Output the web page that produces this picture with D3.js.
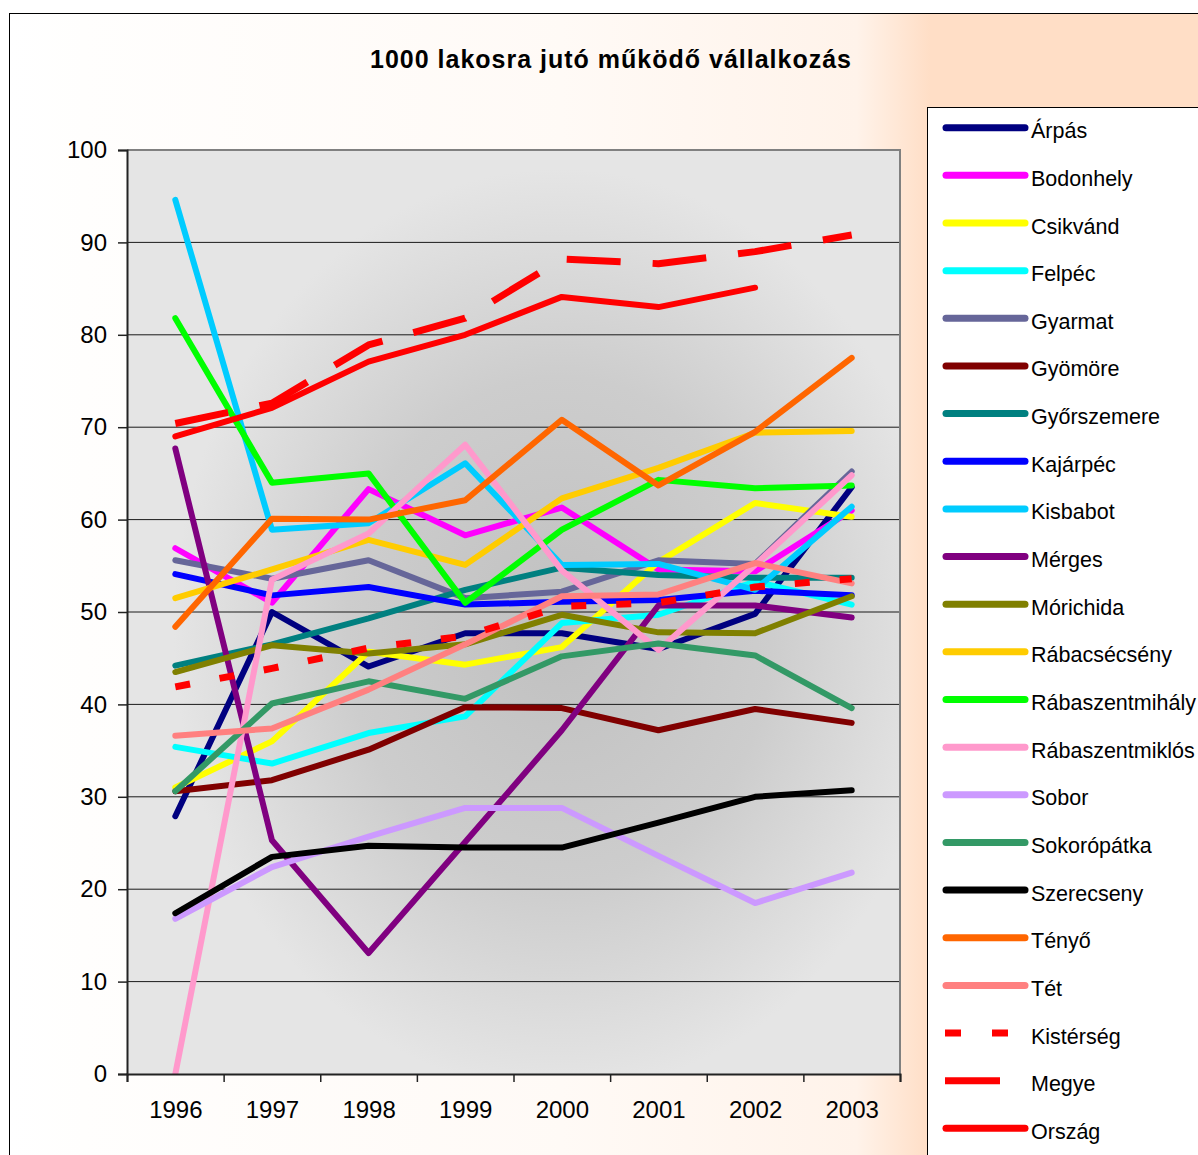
<!DOCTYPE html>
<html>
<head>
<meta charset="utf-8">
<script src="https://cdn.jsdelivr.net/npm/d3@7"></script>
<style>
  html, body { margin: 0; padding: 0; background: #ffffff; }
  svg { display: block; font-family: "Liberation Sans", Arial, sans-serif; }
</style>
</head>
<body>
<svg id="chart" width="1198" height="1155"></svg>
<script>
// ---------- DATA ----------
const years = ["1996", "1997", "1998", "1999", "2000", "2001", "2002", "2003"];
const yTicks = [0, 10, 20, 30, 40, 50, 60, 70, 80, 90, 100];
const title = "1000 lakosra jutó működő vállalkozás";

const seriesNames = ["Árpás", "Bodonhely", "Csikvánd", "Felpéc", "Gyarmat", "Gyömöre", "Győrszemere",
  "Kajárpéc", "Kisbabot", "Mérges", "Mórichida", "Rábacsécsény", "Rábaszentmihály", "Rábaszentmiklós",
  "Sobor", "Sokorópátka", "Szerecseny", "Tényő", "Tét", "Kistérség", "Megye", "Ország"];

const arpas           = [27.9, 50.0, 44.1, 47.7, 47.7, 46.0, 49.8, 63.5];
const bodonhely       = [56.9, 51.0, 63.3, 58.3, 61.3, 54.6, 54.4, 61.0];
const csikvand        = [31.0, 36.0, 45.7, 44.3, 46.2, 55.4, 61.8, 60.3];
const felpec          = [35.4, 33.6, 36.9, 38.7, 48.8, 49.7, 53.3, 50.8];
const gyarmat         = [55.6, 53.6, 55.6, 51.5, 52.2, 55.6, 55.2, 65.2];
const gyomore         = [30.6, 31.8, 35.1, 39.7, 39.6, 37.2, 39.5, 38.0];
const gyorszemere     = [44.2, 46.5, 49.3, 52.4, 54.8, 54.0, 53.7, 53.7];
const kajarpec        = [54.1, 51.8, 52.7, 50.8, 51.1, 51.3, 52.3, 51.8];
const kisbabot        = [94.6, 58.9, 59.6, 66.1, 55.1, 55.2, 52.4, 61.4];
const merges          = [67.7, 25.3, 13.1, 25.1, 37.2, 50.7, 50.7, 49.4];
const morichida       = [43.5, 46.4, 45.5, 46.5, 49.7, 47.8, 47.7, 51.7];
const rabacsecseny    = [51.5, 54.6, 57.8, 55.1, 62.3, 65.6, 69.4, 69.6];
const rabaszentmihaly = [81.8, 64.0, 65.0, 51.0, 58.9, 64.3, 63.4, 63.7];
const rabaszentmiklos = [0.0, 53.5, 58.5, 68.1, 54.5, 45.9, 55.1, 64.8];
const sobor           = [16.8, 22.4, 25.7, 28.8, 28.8, 23.6, 18.5, 21.8];
const sokoropatka     = [30.6, 40.1, 42.5, 40.6, 45.2, 46.6, 45.3, 39.6];
const szerecseny      = [17.4, 23.5, 24.7, 24.5, 24.5, 27.2, 30.0, 30.7];
const tenyo           = [48.4, 60.1, 60.0, 62.1, 70.8, 63.7, 69.5, 77.5];
const tet             = [36.6, 37.4, 41.6, 46.5, 51.7, 51.9, 55.3, 53.1];
const kisterseg       = [41.9, 43.9, 46.1, 47.4, 50.6, 51.0, 52.7, 53.6];
const megye           = [70.4, 72.6, 78.9, 81.8, 88.2, 87.7, 89.0, 90.8];
const orszag          = [69.0, 72.1, 77.1, 80.0, 84.1, 83.0, 85.1, null];

const seriesValues = [arpas, bodonhely, csikvand, felpec, gyarmat, gyomore, gyorszemere, kajarpec,
  kisbabot, merges, morichida, rabacsecseny, rabaszentmihaly, rabaszentmiklos, sobor, sokoropatka,
  szerecseny, tenyo, tet, kisterseg, megye, orszag];

const seriesColors = ["#000080", "#FF00FF", "#FFFF00", "#00FFFF", "#666699", "#800000", "#008080",
  "#0000FF", "#00CCFF", "#800080", "#808000", "#FFCC00", "#00FF00", "#FF99CC", "#CC99FF", "#339966",
  "#000000", "#FF6600", "#FF8080", "#FF0000", "#FF0000", "#FF0000"];

// ---------- STYLE ----------
const FONT = "'Liberation Sans', Arial, sans-serif";
const dashChart = { "Kistérség": "15,30", "Megye": "54,32" };
const dashLegend = { "Kistérség": "16,31", "Megye": "55,40" };

const series = seriesNames.map((n, i) => ({ name: n, values: seriesValues[i], color: seriesColors[i] }));

const svg = d3.select("#chart");
const W = 1198, H = 1155;
const plot = { left: 127, right: 900, top: 150, bottom: 1074 };

const defs = svg.append("defs");
const bg = defs.append("linearGradient").attr("id", "bgGrad")
  .attr("gradientUnits", "userSpaceOnUse").attr("x1", 10).attr("y1", 0).attr("x2", 930).attr("y2", 0);
bg.append("stop").attr("offset", "0").attr("stop-color", "#ffffff");
bg.append("stop").attr("offset", "0.08").attr("stop-color", "#fffefd");
bg.append("stop").attr("offset", "0.6").attr("stop-color", "#fffaf6");
bg.append("stop").attr("offset", "0.92").attr("stop-color", "#fff3ea");
bg.append("stop").attr("offset", "1").attr("stop-color", "#ffdec6");

const pg = defs.append("radialGradient").attr("id", "plotGrad")
  .attr("cx", "0.56").attr("cy", "0.52").attr("r", "0.5");
pg.append("stop").attr("offset", "0").attr("stop-color", "#c0c0c0");
pg.append("stop").attr("offset", "0.55").attr("stop-color", "#cdcdcd");
pg.append("stop").attr("offset", "1").attr("stop-color", "#e5e5e5");

svg.append("rect").attr("x", 0).attr("y", 0).attr("width", W).attr("height", H).attr("fill", "#ffffff");
svg.append("rect").attr("x", 9.5).attr("y", 13.5).attr("width", W + 20).attr("height", H + 20)
  .attr("fill", "url(#bgGrad)").attr("stroke", "#000").attr("stroke-width", 1);

// title
svg.append("text").attr("x", 611).attr("y", 68).attr("text-anchor", "middle")
  .attr("font-family", FONT).attr("letter-spacing", 1)
  .attr("font-size", 25).attr("font-weight", "bold").attr("fill", "#000").text(title);

// scales
const x = d3.scalePoint().domain(years).range([plot.left, plot.right]).padding(0.5);
const xEdge = d3.scaleLinear().domain([0, years.length]).range([plot.left, plot.right]);
const y = d3.scaleLinear().domain([0, 100]).range([plot.bottom, plot.top]);

// plot area
svg.append("rect").attr("x", plot.left).attr("y", plot.top)
  .attr("width", plot.right - plot.left).attr("height", plot.bottom - plot.top)
  .attr("fill", "url(#plotGrad)");

// gridlines
svg.append("g").selectAll("line").data(yTicks.filter(t => t > 0 && t < 100)).join("line")
  .attr("x1", plot.left).attr("x2", plot.right)
  .attr("y1", d => y(d)).attr("y2", d => y(d))
  .attr("stroke", "#1a1a1a").attr("stroke-width", 1);

// plot border top/right
svg.append("path")
  .attr("d", `M${plot.left},${plot.top}H${plot.right}V${plot.bottom}`)
  .attr("fill", "none").attr("stroke", "#808080").attr("stroke-width", 2);

// lines
const clip = defs.append("clipPath").attr("id", "plotClip");
clip.append("rect").attr("x", plot.left).attr("y", plot.top - 20)
  .attr("width", plot.right - plot.left).attr("height", plot.bottom - plot.top + 20);

const line = d3.line()
  .defined(d => d.v !== null)
  .x(d => x(d.year)).y(d => y(d.v));

const gLines = svg.append("g").attr("clip-path", "url(#plotClip)");
series.forEach(s => {
  const pts = years.map((yr, i) => ({ year: yr, v: s.values[i] }));
  const dashed = dashChart[s.name];
  gLines.append("path")
    .attr("d", line(pts))
    .attr("fill", "none")
    .attr("stroke", s.color)
    .attr("stroke-width", dashed ? 7 : 6)
    .attr("stroke-linejoin", "round")
    .attr("stroke-linecap", dashed ? "butt" : "round")
    .attr("stroke-dasharray", dashed || null);
});

// y axis
const yAxis = d3.axisLeft(y).tickValues(yTicks).tickSize(9).tickPadding(11).tickFormat(d3.format("d"));
const gy = svg.append("g").attr("transform", `translate(${plot.left},0)`).call(yAxis);
gy.select(".domain").attr("stroke", "#222").attr("stroke-width", 2);
gy.selectAll(".tick line").attr("stroke", "#222").attr("stroke-width", 1.5);
gy.selectAll(".tick text").attr("font-size", 24).attr("fill", "#000").attr("font-family", FONT);

// x axis: tick marks at category edges
const xTickAxis = d3.axisBottom(xEdge).tickValues(d3.range(0, years.length + 1)).tickSize(8).tickFormat("");
const gxt = svg.append("g").attr("transform", `translate(0,${plot.bottom})`).call(xTickAxis);
gxt.select(".domain").attr("stroke", "#222").attr("stroke-width", 2);
gxt.selectAll(".tick line").attr("stroke", "#222").attr("stroke-width", 1.5);

const xAxis = d3.axisBottom(x).tickSize(0).tickPadding(0);
const gx = svg.append("g").attr("transform", `translate(0,${plot.bottom})`).call(xAxis);
gx.select(".domain").remove();
gx.selectAll(".tick text").attr("font-size", 24).attr("fill", "#000").attr("dy", null).attr("y", 44)
  .attr("font-family", FONT);

// legend
const lg = svg.append("g");
lg.append("rect").attr("x", 927.5).attr("y", 107.5).attr("width", 400).attr("height", 1200)
  .attr("fill", "#ffffff").attr("stroke", "#000").attr("stroke-width", 1);
const rowY = i => 127.7 + i * 47.65;
series.forEach((s, i) => {
  const dashed = dashLegend[s.name];
  lg.append("line")
    .attr("x1", dashed ? 945 : 946).attr("x2", dashed ? 1026 : 1025)
    .attr("y1", rowY(i)).attr("y2", rowY(i))
    .attr("stroke", s.color).attr("stroke-width", 7)
    .attr("stroke-linecap", dashed ? "butt" : "round")
    .attr("stroke-dasharray", dashed || null);
  lg.append("text").attr("x", 1031).attr("y", rowY(i) + 10.5)
    .attr("font-family", FONT)
    .attr("font-size", 21.5).attr("fill", "#000").text(s.name);
});
</script>
</body>
</html>
